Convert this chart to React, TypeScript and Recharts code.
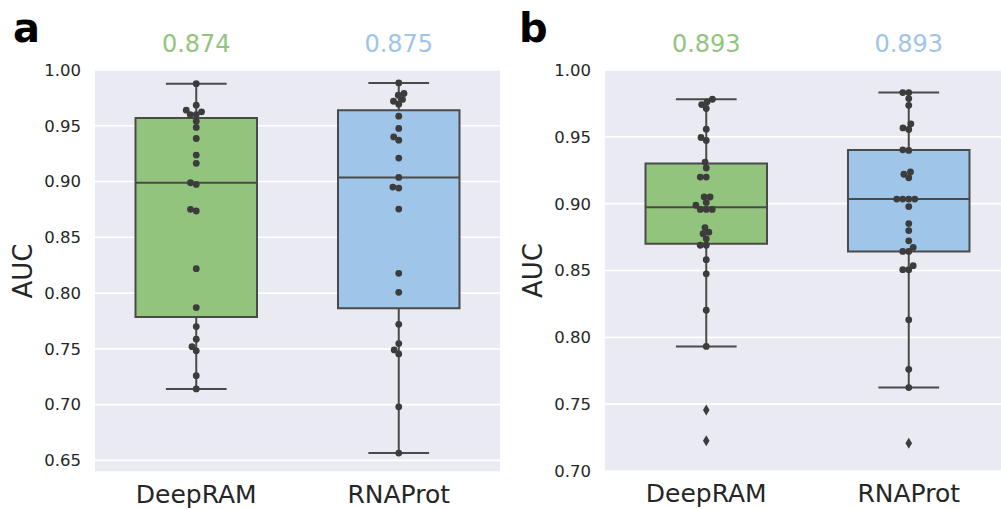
import React from 'react';
import {
  ComposedChart,
  Scatter,
  XAxis,
  YAxis,
  CartesianGrid,
  ReferenceArea,
  ReferenceLine,
  ReferenceDot,
  Label,
} from 'recharts';

const categories = ['DeepRAM', 'RNAProt'];
const colors = ['#93c47d', '#9fc5e8'];

// panel a
const aucA_DeepRAM = [
  0.9877, 0.9685, 0.964, 0.9625, 0.96, 0.96, 0.9541, 0.9485, 0.9386, 0.9237, 0.9163, 0.8989,
  0.8974, 0.8751, 0.8736, 0.8219, 0.787, 0.77, 0.7587, 0.752, 0.7482, 0.726, 0.7141,
];
const aucA_RNAProt = [
  0.9884, 0.979, 0.9774, 0.9736, 0.972, 0.9694, 0.9586, 0.9476, 0.94, 0.9371, 0.921, 0.9037,
  0.895, 0.8941, 0.8753, 0.8177, 0.8007, 0.772, 0.7547, 0.749, 0.7455, 0.698, 0.6566,
];
const meanLabelsA = ['0.874', '0.875'];
const ticksA = [0.65, 0.7, 0.75, 0.8, 0.85, 0.9, 0.95, 1.0];

// panel b
const aucB_DeepRAM = [
  0.9781, 0.9761, 0.9741, 0.9712, 0.9557, 0.9495, 0.9473, 0.9311, 0.9267, 0.9199, 0.9199, 0.905,
  0.905, 0.9008, 0.8988, 0.8957, 0.8957, 0.8957, 0.8821, 0.8787, 0.8775, 0.8737, 0.8689, 0.8689,
  0.8581, 0.8475, 0.8203, 0.7932, 0.7457, 0.7226,
];
const aucB_RNAProt = [
  0.9831, 0.9831, 0.9786, 0.9736, 0.9597, 0.9567, 0.9555, 0.9403, 0.9398, 0.9237, 0.922, 0.9194,
  0.9034, 0.9034, 0.9034, 0.9034, 0.8978, 0.8851, 0.8799, 0.8722, 0.8673, 0.8643, 0.8643, 0.8536,
  0.8506, 0.8506, 0.8131, 0.7761, 0.7624, 0.7207,
];
const meanLabelsB = ['0.893', '0.893'];
const ticksB = [0.7, 0.75, 0.8, 0.85, 0.9, 0.95, 1.0];

const TEXT = '#262626';
const EDGE = '#4a4a4a';
const DOT = '#3c3c3c';
const PLOT_W = 405;
const PLOT_TOP = 70;

function quantile(sorted: number[], q: number) {
  const pos = (sorted.length - 1) * q;
  const lo = Math.floor(pos);
  const hi = Math.ceil(pos);
  return sorted[lo] + (sorted[hi] - sorted[lo]) * (pos - lo);
}

function boxStats(values: number[]) {
  const s = [...values].sort((a, b) => a - b);
  const q1 = quantile(s, 0.25);
  const med = quantile(s, 0.5);
  const q3 = quantile(s, 0.75);
  const iqr = q3 - q1;
  const inside = s.filter((v) => v >= q1 - 1.5 * iqr && v <= q3 + 1.5 * iqr);
  return {
    q1,
    med,
    q3,
    lo: inside[0],
    hi: inside[inside.length - 1],
    inside,
    outliers: s.filter((v) => v < q1 - 1.5 * iqr || v > q3 + 1.5 * iqr),
  };
}

// simple beeswarm in pixel space, returns x offsets in px
function swarm(values: number[], pxPerUnit: number, d: number) {
  const order = values.map((v, i) => i).sort((a, b) => values[a] - values[b]);
  const placed: { x: number; y: number }[] = [];
  const out = new Array(values.length).fill(0);
  order.forEach((idx) => {
    const y = values[idx] * pxPerUnit;
    const near = placed.filter((p) => Math.abs(p.y - y) < d);
    const cands = [0];
    near.forEach((p) => {
      const dx = Math.sqrt(d * d - (p.y - y) * (p.y - y));
      cands.push(p.x - dx, p.x + dx);
    });
    cands.sort((a, b) => Math.abs(a) - Math.abs(b) || a - b);
    const x =
      cands.find((c) => near.every((p) => (c - p.x) ** 2 + (p.y - y) ** 2 >= d * d - 1e-6)) ?? 0;
    placed.push({ x, y });
    out[idx] = x;
  });
  return out;
}

const Dot = (props: any) => <circle cx={props.cx} cy={props.cy} r={3.4} fill={DOT} />;
const Diamond = (props: any) => (
  <path
    d={`M${props.cx},${props.cy - 5.5} L${props.cx + 3.3},${props.cy} L${props.cx},${props.cy + 5.5} L${props.cx - 3.3},${props.cy} Z`}
    fill={DOT}
  />
);

interface PanelProps {
  series: number[][];
  domain: [number, number];
  ticks: number[];
  meanLabels: string[];
  left: number;
  marginLeft: number;
  xAxisHeight: number;
}

const Panel: React.FC<PanelProps> = ({ series, domain, ticks, meanLabels, left, marginLeft, xAxisHeight }) => {
  const height = 509;
  const yAxisW = 60;
  const width = marginLeft + yAxisW + PLOT_W;
  const plotH = height - PLOT_TOP - xAxisHeight;
  const pxPerUnit = plotH / (domain[1] - domain[0]);
  const pxPerCat = PLOT_W / 2;

  const stats = series.map(boxStats);
  const points: { x: number; y: number }[] = [];
  const outliers: { x: number; y: number }[] = [];
  stats.forEach((st, i) => {
    const offs = swarm(st.inside, pxPerUnit, 6);
    st.inside.forEach((v, k) => points.push({ x: i + offs[k] / pxPerCat, y: v }));
    st.outliers.forEach((v) => outliers.push({ x: i, y: v }));
  });

  return (
    <div style={{ position: 'absolute', left, top: 0 }}>
      <ComposedChart width={width} height={height} margin={{ top: PLOT_TOP, right: 0, bottom: 0, left: marginLeft }}>
        <CartesianGrid vertical={false} stroke="#ffffff" strokeWidth={1.6} fill="#eaeaf2" fillOpacity={1} />
        <XAxis
          type="number"
          dataKey="x"
          domain={[-0.5, 1.5]}
          ticks={[0, 1]}
          tickFormatter={(i: number) => categories[i]}
          tick={{ fontSize: 25, fill: TEXT }}
          tickLine={false}
          axisLine={false}
          tickSize={0}
          tickMargin={13}
          height={xAxisHeight}
          allowDataOverflow
        />
        <YAxis
          type="number"
          dataKey="y"
          domain={domain}
          ticks={ticks}
          tickFormatter={(v: number) => v.toFixed(2)}
          tick={{ fontSize: 16.5, fill: TEXT }}
          tickLine={false}
          axisLine={false}
          tickSize={0}
          tickMargin={14}
          width={yAxisW}
          allowDataOverflow
        >
          <Label
            content={({ viewBox }: any) => {
              const x = viewBox.x - 12;
              const y = viewBox.y + viewBox.height / 2;
              return (
                <text
                  x={x}
                  y={y}
                  fill={TEXT}
                  fontSize={26}
                  textAnchor="middle"
                  dominantBaseline="central"
                  transform={`rotate(-90, ${x}, ${y})`}
                >
                  AUC
                </text>
              );
            }}
          />
        </YAxis>
        {stats.map((st, i) => (
          <ReferenceArea
            key={`box${i}`}
            x1={i - 0.3}
            x2={i + 0.3}
            y1={st.q1}
            y2={st.q3}
            fill={colors[i]}
            fillOpacity={1}
            stroke={EDGE}
            strokeWidth={2}
          />
        ))}
        {stats.map((st, i) => (
          <ReferenceLine key={`med${i}`} segment={[{ x: i - 0.3, y: st.med }, { x: i + 0.3, y: st.med }]} stroke={EDGE} strokeWidth={2} />
        ))}
        {stats.map((st, i) => (
          <ReferenceLine key={`wh${i}`} segment={[{ x: i, y: st.q3 }, { x: i, y: st.hi }]} stroke={EDGE} strokeWidth={2} />
        ))}
        {stats.map((st, i) => (
          <ReferenceLine key={`wl${i}`} segment={[{ x: i, y: st.q1 }, { x: i, y: st.lo }]} stroke={EDGE} strokeWidth={2} />
        ))}
        {stats.map((st, i) => (
          <ReferenceLine key={`ch${i}`} segment={[{ x: i - 0.15, y: st.hi }, { x: i + 0.15, y: st.hi }]} stroke={EDGE} strokeWidth={2} />
        ))}
        {stats.map((st, i) => (
          <ReferenceLine key={`cl${i}`} segment={[{ x: i - 0.15, y: st.lo }, { x: i + 0.15, y: st.lo }]} stroke={EDGE} strokeWidth={2} />
        ))}
        {meanLabels.map((m, i) => (
          <ReferenceDot
            key={`mean${i}`}
            x={i}
            y={domain[1]}
            r={0}
            fill="none"
            stroke="none"
            ifOverflow="visible"
            label={{ value: m, position: 'top', offset: 18, fill: colors[i], fontSize: 24 }}
          />
        ))}
        <Scatter data={points} shape={<Dot />} isAnimationActive={false} />
        <Scatter data={outliers} shape={<Diamond />} isAnimationActive={false} />
      </ComposedChart>
    </div>
  );
};

export default function App() {
  return (
    <div
      style={{
        position: 'absolute',
        left: 0,
        top: 0,
        width: 1001,
        height: 509,
        overflow: 'hidden',
        background: '#ffffff',
        fontFamily: '"DejaVu Sans", sans-serif',
      }}
    >
      <Panel
        series={[aucA_DeepRAM, aucA_RNAProt]}
        domain={[0.6396, 1.0]}
        ticks={ticksA}
        meanLabels={meanLabelsA}
        left={0}
        marginLeft={35}
        xAxisHeight={37}
      />
      <Panel
        series={[aucB_DeepRAM, aucB_RNAProt]}
        domain={[0.7, 1.0]}
        ticks={ticksB}
        meanLabels={meanLabelsB}
        left={500}
        marginLeft={45}
        xAxisHeight={38}
      />
      <svg width={1001} height={509} style={{ position: 'absolute', left: 0, top: 0, pointerEvents: 'none' }}>
        <text x={13} y={42} fontSize={40} fontWeight="bold" fill="#000">a</text>
        <text x={519} y={42} fontSize={40} fontWeight="bold" fill="#000">b</text>
      </svg>
    </div>
  );
}
